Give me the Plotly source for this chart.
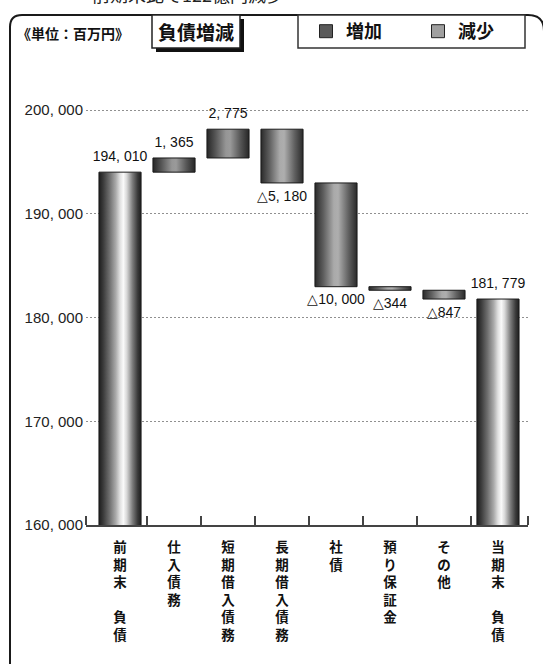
import plotly.graph_objects as go

# ---------------- data ----------------
categories = ["前期末\u3000負債", "仕入債務", "短期借入債務", "長期借入債務",
              "社債", "預り保証金", "その他", "当期末\u3000負債"]
start_total = 194010
changes = [1365, 2775, -5180, -10000, -344, -847]
end_total = 181779
bar_labels = ["194, 010", "1, 365", "2, 775", "△5, 180", "△10, 000",
              "△344", "△847", "181, 779"]
y_ticks = [160000, 170000, 180000, 190000, 200000]
y_tick_labels = ["160, 000", "170, 000", "180, 000", "190, 000", "200, 000"]
legend_names = ["増加", "減少"]
unit_text = "《単位：百万円》"
title_text = "負債増減"
top_text = "前期末比で122億円減少"

# ---------------- layout geometry (pixels) ----------------
FW, FH = 543, 664
L, T, R, B = 86, 60, 528, 525
W, H = R - L, B - T


def px(x):
    return (x - L) / W


def py(y):
    return 1 - (y - T) / H


y_min = 160000
y_max = y_min + H / 10.375 * 1000
bar_w = 0.78

# ---------------- waterfall geometry from data ----------------
lows, highs, kinds = [0], [start_total], ["total"]
run = start_total
for ch in changes:
    nxt = run + ch
    lows.append(min(run, nxt))
    highs.append(max(run, nxt))
    kinds.append("inc" if ch > 0 else "dec")
    run = nxt
lows.append(0)
highs.append(end_total)
kinds.append("total")

scales = {
    "total": [[0, '#1e1e1e'], [0.1, '#3a3a3a'], [0.25, '#6e6e6e'], [0.4, '#aaaaaa'],
              [0.5, '#e0e0e0'], [0.58, '#fafafa'], [0.66, '#d8d8d8'], [0.8, '#7a7a7a'],
              [0.92, '#3a3a3a'], [1, '#1e1e1e']],
    "inc": [[0, '#262626'], [0.2, '#555555'], [0.45, '#969696'], [0.55, '#9a9a9a'],
            [0.8, '#555555'], [1, '#262626']],
    "dec": [[0, '#2a2a2a'], [0.2, '#5e5e5e'], [0.45, '#aaaaaa'], [0.55, '#aeaeae'],
            [0.8, '#606060'], [1, '#2a2a2a']],
}

fig = go.Figure()
for i, (lo, hi, k) in enumerate(zip(lows, highs, kinds)):
    x0, x1 = i - bar_w / 2, i + bar_w / 2
    fig.add_trace(go.Scatter(
        x=[x0, x1, x1, x0, x0], y=[lo, lo, hi, hi, lo],
        mode='lines', fill='toself',
        fillgradient=dict(type='horizontal', colorscale=scales[k]),
        line=dict(color='#1a1a1a', width=1),
        hoverinfo='skip', showlegend=False))

# data labels
top_idx = [i for i, k in enumerate(kinds) if k != "dec"]
bot_idx = [i for i, k in enumerate(kinds) if k == "dec"]
lab_font = dict(family="Liberation Sans, Arial, sans-serif", size=14, color='#111')
ghost = dict(size=10, color='rgba(0,0,0,0)')
fig.add_trace(go.Scatter(
    x=top_idx, y=[highs[i] for i in top_idx], text=[bar_labels[i] for i in top_idx],
    mode='markers+text', marker=ghost, textposition='top center', textfont=lab_font,
    hoverinfo='skip', showlegend=False))
fig.add_trace(go.Scatter(
    x=bot_idx, y=[lows[i] for i in bot_idx], text=[bar_labels[i] for i in bot_idx],
    mode='markers+text', marker=ghost, textposition='bottom center', textfont=lab_font,
    hoverinfo='skip', showlegend=False))

# legend entries
fig.add_trace(go.Scatter(x=[None], y=[None], mode='markers', name=legend_names[0],
                         marker=dict(symbol='square', size=13, color='#5a5a5a',
                                     line=dict(color='#222', width=1)),
                         legend='legend'))
fig.add_trace(go.Scatter(x=[None], y=[None], mode='markers', name=legend_names[1],
                         marker=dict(symbol='square', size=13, color='#a0a0a0',
                                     line=dict(color='#222', width=1)),
                         legend='legend2'))

cjk = "Noto Sans CJK JP"
leg_font = dict(family=cjk, size=18, color='#111', weight='bold')

tick_text = ["<br>".join(list(c)) for c in categories]
n = len(categories)
bounds = [i + 0.5 for i in range(n - 1)] + [-0.625, n - 0.45]

shapes = [
    # outer rounded frame
    dict(type='path', xref='paper', yref='paper',
         path=(f"M {px(10)},{py(672)} L {px(10)},{py(27)} "
               f"Q {px(10)},{py(15)} {px(22)},{py(15)} "
               f"L {px(528)},{py(15)} Q {px(544)},{py(15)} {px(544)},{py(31)} "
               f"L {px(544)},{py(672)}"),
         line=dict(color='#1a1a1a', width=2)),
    # title box shadow
    dict(type='rect', xref='paper', yref='paper',
         x0=px(156), x1=px(244), y0=py(19), y1=py(52),
         fillcolor='#111', line=dict(width=0)),
    # title box
    dict(type='rect', xref='paper', yref='paper',
         x0=px(152), x1=px(240), y0=py(15), y1=py(48),
         fillcolor='white', line=dict(color='#222', width=1.5)),
    # legend box
    dict(type='rect', xref='paper', yref='paper',
         x0=px(298), x1=px(525), y0=py(15), y1=py(48),
         fillcolor='white', line=dict(color='#333', width=1.5)),
]

annotations = [
    dict(text=unit_text, xref='paper', yref='paper', x=px(15), y=py(33),
         xanchor='left', yanchor='middle', showarrow=False,
         font=dict(family=cjk, size=14, color='#111', weight='bold')),
    dict(text=title_text, xref='paper', yref='paper', x=px(196), y=py(32),
         xanchor='center', yanchor='middle', showarrow=False,
         font=dict(family=cjk, size=19, color='#111', weight='bold')),
    dict(text=top_text, xref='paper', yref='paper', x=px(90), y=py(-6),
         xanchor='left', yanchor='middle', showarrow=False,
         font=dict(family=cjk, size=18, color='#222')),
]

fig.update_layout(
    width=FW, height=FH,
    margin=dict(l=L, r=FW - R, t=T, b=FH - B),
    paper_bgcolor='white', plot_bgcolor='white',
    shapes=shapes, annotations=annotations,
    legend=dict(x=px(306), y=py(31.5), xanchor='left', yanchor='middle',
                orientation='h', bgcolor='rgba(0,0,0,0)', borderwidth=0,
                font=leg_font, itemwidth=30),
    legend2=dict(x=px(418), y=py(31.5), xanchor='left', yanchor='middle',
                 orientation='h', bgcolor='rgba(0,0,0,0)', borderwidth=0,
                 font=leg_font, itemwidth=30),
    xaxis=dict(range=[-0.63, n - 0.444], tickmode='array',
               tickvals=list(range(n)), ticktext=tick_text, ticks='',
               showgrid=False, zeroline=False, showline=True,
               linecolor='#444', linewidth=1.5, tickangle=0,
               ticklabelstandoff=9,
               tickfont=dict(family=cjk, size=13.5, color='#111', weight='bold'),
               minor=dict(tickmode='array', tickvals=bounds, ticks='inside',
                          ticklen=9, tickwidth=1.5, tickcolor='#444', showgrid=False),
               fixedrange=True),
    yaxis=dict(range=[y_min, y_max], tickmode='array', tickvals=y_ticks,
               ticktext=y_tick_labels, ticks='', showline=False, zeroline=False,
               showgrid=True, gridcolor='#909090', gridwidth=1, griddash='2px,2px',
               tickfont=dict(family="Liberation Sans, Arial, sans-serif", size=15,
                             color='#222'),
               ticklabelstandoff=2, fixedrange=True),
)

fig.write_html("out.html")
